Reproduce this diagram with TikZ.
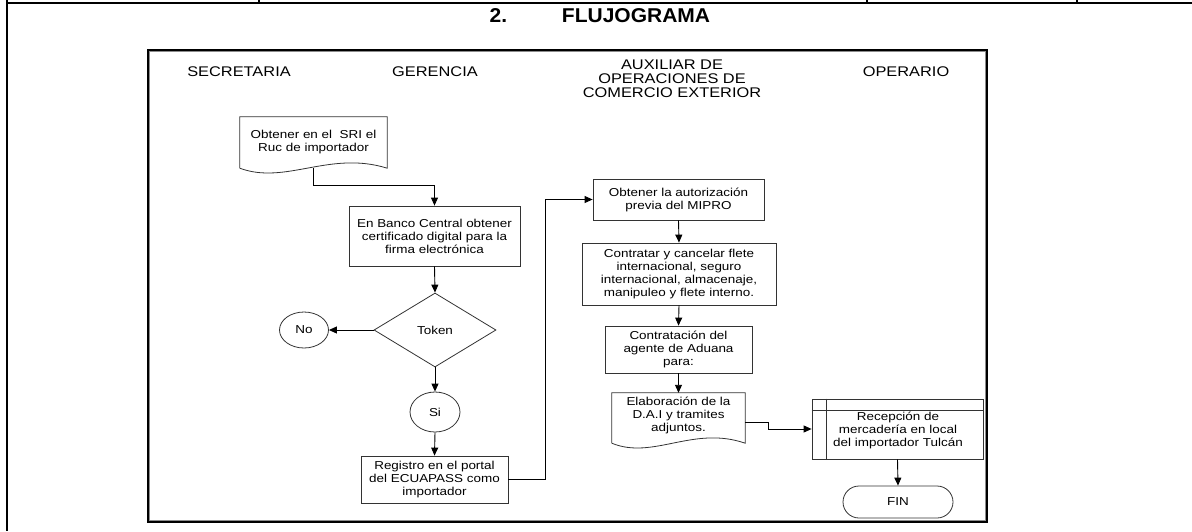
\documentclass[tikz,border=0pt]{standalone}
\usepackage{fontspec}
\setmainfont{Liberation Sans}[FakeStretch=1.17]
\newfontfamily\headfont{Liberation Sans}[FakeStretch=1.05]
\usetikzlibrary{shapes.geometric,arrows.meta,calc}

% outline of a "document" symbol: straight top and sides, wavy bottom edge
\newcommand\docoutline[1]{%
  \draw[draw=black!80, line width=0.8pt]
    (#1.south west) -- (#1.north west) -- (#1.north east) -- (#1.south east)
    .. controls ($(#1.south east)!0.39!(#1.south west)+(0,-18)$)
           and ($(#1.south west)!0.31!(#1.south east)+(0,17)$) .. (#1.south west);}

\begin{document}
\begin{tikzpicture}[x=1pt, y=-1pt,
  txt/.style={font=\fontsize{11.5}{13}\selectfont, align=center, inner sep=0pt},
  box/.style={txt, draw=black!80, line width=0.8pt, fill=white},
  docbox/.style={txt},
  lane/.style={font=\fontsize{14}{14}\selectfont, align=center, inner sep=0pt},
  heading/.style={font=\headfont\bfseries\fontsize{20}{22}\selectfont, inner sep=0pt},
  flow/.style={draw=black, line width=0.9pt, -{Triangle[length=8pt,width=7pt]}},
  rule/.style={draw=black, line width=2pt}]

\useasboundingbox (0,0) rectangle (1192,531);

% page rules of the surrounding form
\draw[rule] (7,3) -- (1192,3);
\draw[rule] (7,0) -- (7,531);
\foreach \xx in {259,867,1077} \draw[rule] (\xx,0) -- (\xx,3);

% heading
\node[heading] (num) at (498.5,16) {2.};
\node[heading] (ttl) at (636,16) {FLUJOGRAMA};

% flowchart frame
\draw[draw=black!45, line width=1pt] (149.5,51.5) rectangle (985.5,520.5);
\draw[draw=black, line width=1.5pt] (148,50) rectangle (987,522);

% swim-lane headers
\node[lane] (hsec) at (239,72) {SECRETARIA};
\node[lane] (hger) at (435,72) {GERENCIA};
\node[lane] (haux) at (672,79) {AUXILIAR DE\\OPERACIONES DE\\COMERCIO EXTERIOR};
\node[lane] (hope) at (906,72) {OPERARIO};

% steps
\node[docbox, minimum width=147, minimum height=51] (ruc) at (313.5,142.5) {};
\docoutline{ruc}
\node[txt] at (313.5,142) {Obtener en el \ SRI el\\Ruc de importador};

\node[box, minimum width=171, minimum height=60] (cert) at (434.5,236)
  {En Banco Central obtener\\certificado digital para la\\firma electrónica};

\node[box, diamond, minimum width=122, minimum height=74] (token) at (435,330) {Token};

\node[box, ellipse, minimum width=49, minimum height=36] (no) at (304,330) {No};
\node[box, ellipse, minimum width=50, minimum height=40] (si) at (435,412) {Si};

\node[box, minimum width=147, minimum height=47] (reg) at (434.5,479.5)
  {Registro en el portal\\del ECUAPASS como\\importador};

\node[box, minimum width=171, minimum height=41] (mipro) at (678.5,199.5)
  {Obtener la autorización\\previa del MIPRO};

\node[box, minimum width=194, minimum height=62] (flete) at (679,274)
  {Contratar y cancelar flete\\internacional, seguro\\internacional, almacenaje,\\manipuleo y flete interno.};

\node[box, minimum width=147, minimum height=47] (agente) at (678.5,349.5)
  {Contratación del\\agente de Aduana\\para:};

\node[docbox, minimum width=133, minimum height=50] (dai) at (678.5,418) {};
\docoutline{dai}
\node[txt] at (678.5,415) {Elaboración de la\\D.A.I y tramites\\adjuntos.};

% predefined-process box with header band and side strip
\node[box, minimum width=171, minimum height=60] (rec) at (897.5,429) {};
\draw[draw=black!80, line width=0.8pt] ($(rec.north west)+(15,0)$) -- ($(rec.south west)+(15,0)$);
\draw[draw=black!80, line width=0.8pt] ($(rec.north west)+(0,12)$) -- ($(rec.north east)+(0,12)$);
\node[txt] at (898,430) {Recepción de\\mercadería en local\\del importador Tulcán};

\node[box, rounded corners=16pt, minimum width=110, minimum height=32] (fin) at (898,502) {FIN};

% connectors
\draw[flow] (ruc.south) -- ++(0,17) -| (cert.north);
\draw[flow] (cert.south) -- (token.north);
\draw[flow] (token.west) -- (no.east);
\draw[flow] (token.south) -- (si.north);
\draw[flow] (si.south) -- (reg.north);
\draw[flow] (reg.east) -- ++(37,0) |- (mipro.west);
\draw[flow] (mipro.south) -- (flete.north);
\draw[flow] (flete.south) -- (agente.north);
\draw[flow] (agente.south) -- (dai.north);
\draw[flow] ($(dai.east)+(0,4)$) -- ++(23,0) |- (rec.west);
\draw[flow] (rec.south) -- (fin.north);
\end{tikzpicture}
\end{document}
